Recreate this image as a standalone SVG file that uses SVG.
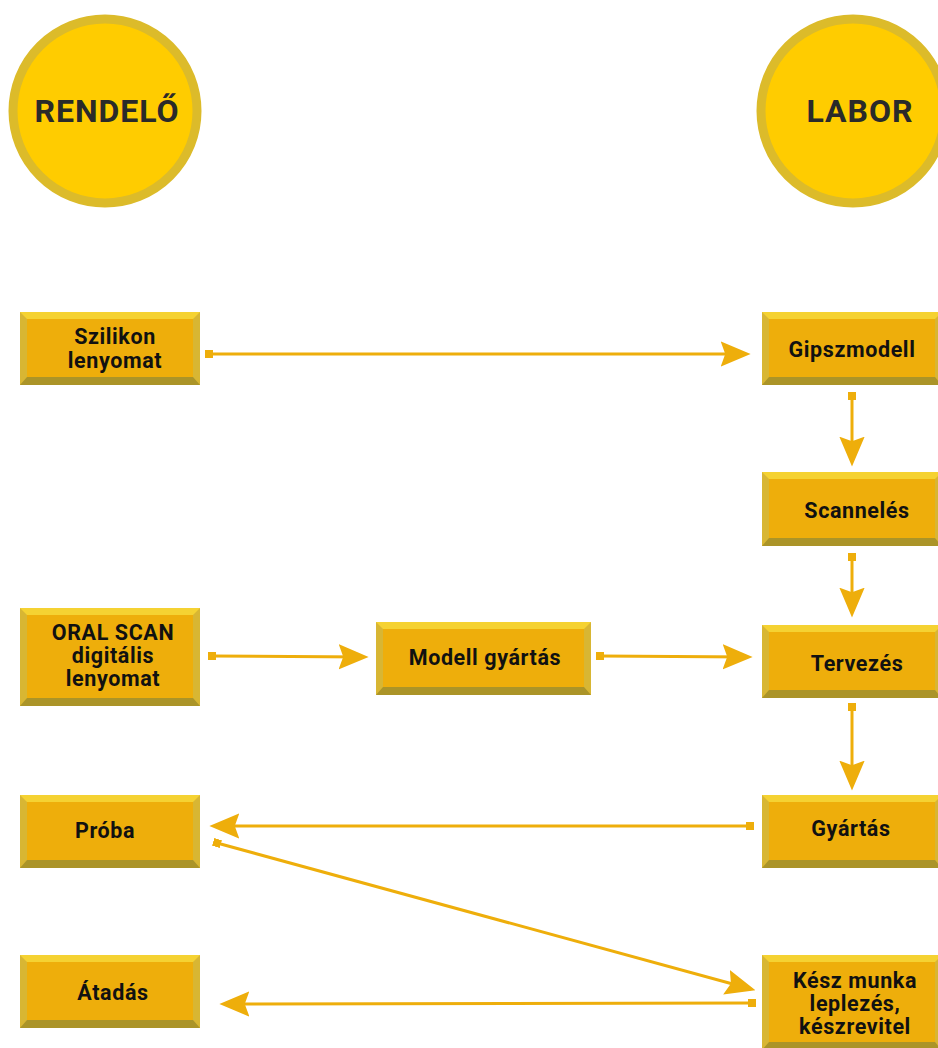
<svg xmlns="http://www.w3.org/2000/svg" width="938" height="1048" viewBox="0 0 938 1048">
<style>
.face{fill:#eeae0b}
.top{fill:#f5d232}
.bot{fill:#ab9428}
.side{fill:#d8b633}
.lbl{font-family:Roboto,"Liberation Sans",sans-serif;font-weight:bold;font-size:21.5px;letter-spacing:0.6px;fill:#111;text-anchor:middle}
.big{font-family:Roboto,"Liberation Sans",sans-serif;font-weight:bold;font-size:32px;letter-spacing:1px;fill:#2a2a2a;text-anchor:middle}
.ring{fill:#ffcc00;stroke:#dcbb2a;stroke-width:9}
.conn{stroke:#eeae0b;stroke-width:3;fill:none;marker-start:url(#sq);marker-end:url(#ah)}
</style>
<defs>
<marker id="ah" markerUnits="userSpaceOnUse" markerWidth="30" markerHeight="26" viewBox="0 0 26 22" refX="22" refY="11" orient="auto">
<path d="M0,0 L26,11 L0,22 L4,11 Z" fill="#eeae0b"/>
</marker>
<marker id="sq" markerUnits="userSpaceOnUse" markerWidth="8" markerHeight="8" viewBox="0 0 8 8" refX="4" refY="4" orient="auto">
<rect width="8" height="8" fill="#eeae0b"/>
</marker>
</defs>

<g id="rendelo">
<circle class="ring" cx="105" cy="111" r="92"/>
<text class="big" x="107" y="122">RENDELŐ</text>
</g>
<g id="labor">
<circle class="ring" cx="853" cy="111" r="92"/>
<text class="big" x="860" y="122">LABOR</text>
</g>

<g id="szilikon" transform="translate(20,312)">
<rect class="side" width="180" height="73"/>
<polygon class="top" points="0,0 180,0 173,7 7,7"/>
<polygon class="bot" points="0,73 180,73 173,65 7,65"/>
<rect class="face" x="7" y="7" width="166" height="58"/>
<text class="lbl" x="95" y="32">Szilikon</text>
<text class="lbl" x="95" y="56">lenyomat</text>
</g>

<g id="gipszmodell" transform="translate(762,312)">
<rect class="side" width="180" height="73"/>
<polygon class="top" points="0,0 180,0 173,7 7,7"/>
<polygon class="bot" points="0,73 180,73 173,65 7,65"/>
<rect class="face" x="7" y="7" width="166" height="58"/>
<text class="lbl" x="90" y="45">Gipszmodell</text>
</g>

<g id="scanneles" transform="translate(762,472)">
<rect class="side" width="180" height="74"/>
<polygon class="top" points="0,0 180,0 173,7 7,7"/>
<polygon class="bot" points="0,74 180,74 173,66 7,66"/>
<rect class="face" x="7" y="7" width="166" height="59"/>
<text class="lbl" x="95" y="46">Scannelés</text>
</g>

<g id="oralscan" transform="translate(20,608)">
<rect class="side" width="180" height="98"/>
<polygon class="top" points="0,0 180,0 173,7 7,7"/>
<polygon class="bot" points="0,98 180,98 173,90 7,90"/>
<rect class="face" x="7" y="7" width="166" height="83"/>
<text class="lbl" x="93" y="32">ORAL SCAN</text>
<text class="lbl" x="93" y="55">digitális</text>
<text class="lbl" x="93" y="78">lenyomat</text>
</g>

<g id="modellgyartas" transform="translate(376,622)">
<rect class="side" width="215" height="73"/>
<polygon class="top" points="0,0 215,0 208,7 7,7"/>
<polygon class="bot" points="0,73 215,73 208,65 7,65"/>
<rect class="face" x="7" y="7" width="201" height="58"/>
<text class="lbl" x="109" y="43">Modell gyártás</text>
</g>

<g id="tervezes" transform="translate(762,625)">
<rect class="side" width="180" height="73"/>
<polygon class="top" points="0,0 180,0 173,7 7,7"/>
<polygon class="bot" points="0,73 180,73 173,65 7,65"/>
<rect class="face" x="7" y="7" width="166" height="58"/>
<text class="lbl" x="95" y="46">Tervezés</text>
</g>

<g id="proba" transform="translate(20,795)">
<rect class="side" width="180" height="73"/>
<polygon class="top" points="0,0 180,0 173,7 7,7"/>
<polygon class="bot" points="0,73 180,73 173,65 7,65"/>
<rect class="face" x="7" y="7" width="166" height="58"/>
<text class="lbl" x="85" y="43">Próba</text>
</g>

<g id="gyartas" transform="translate(762,795)">
<rect class="side" width="180" height="73"/>
<polygon class="top" points="0,0 180,0 173,7 7,7"/>
<polygon class="bot" points="0,73 180,73 173,65 7,65"/>
<rect class="face" x="7" y="7" width="166" height="58"/>
<text class="lbl" x="89" y="41">Gyártás</text>
</g>

<g id="atadas" transform="translate(20,955)">
<rect class="side" width="180" height="73"/>
<polygon class="top" points="0,0 180,0 173,7 7,7"/>
<polygon class="bot" points="0,73 180,73 173,65 7,65"/>
<rect class="face" x="7" y="7" width="166" height="58"/>
<text class="lbl" x="93" y="45">Átadás</text>
</g>

<g id="keszmunka" transform="translate(762,955)">
<rect class="side" width="180" height="95"/>
<polygon class="top" points="0,0 180,0 173,7 7,7"/>
<polygon class="bot" points="0,95 180,95 173,87 7,87"/>
<rect class="face" x="7" y="7" width="166" height="80"/>
<text class="lbl" x="93" y="33">Kész munka</text>
<text class="lbl" x="93" y="56">leplezés,</text>
<text class="lbl" x="93" y="79">készrevitel</text>
</g>

<g id="connectors">
<line class="conn" x1="209" y1="354" x2="746" y2="354"/>
<line class="conn" x1="852" y1="396" x2="852" y2="462"/>
<line class="conn" x1="852" y1="557" x2="852" y2="613"/>
<line class="conn" x1="852" y1="707" x2="852" y2="786"/>
<line class="conn" x1="212" y1="656" x2="364" y2="657"/>
<line class="conn" x1="600" y1="656" x2="748" y2="657"/>
<line class="conn" x1="750" y1="826" x2="214" y2="826"/>
<line class="conn" x1="217" y1="843" x2="751" y2="989"/>
<line class="conn" x1="752" y1="1003" x2="224" y2="1004"/>
</g>
</svg>
